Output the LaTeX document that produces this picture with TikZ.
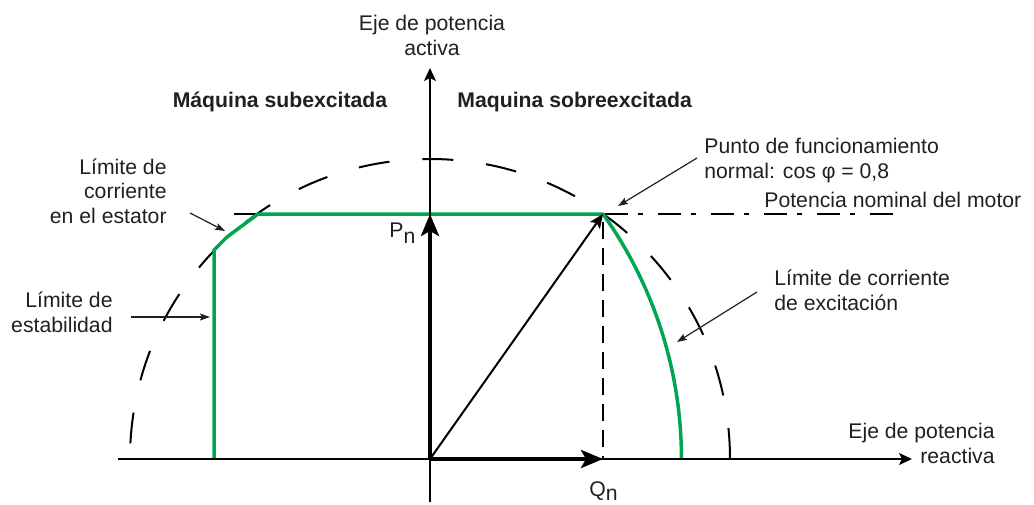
\documentclass[tikz,border=0pt]{standalone}
\usepackage{fontspec}
\setmainfont{Liberation Sans}
\usetikzlibrary{arrows.meta}
\definecolor{limgreen}{RGB}{0,166,81}
\definecolor{txtgray}{RGB}{35,31,32}

\begin{document}
\begin{tikzpicture}[x=0.5pt, y=0.5pt,
		lbl/.style={font=\fontsize{10.6}{12.2}\selectfont, text=txtgray, inner sep=0pt},
		bold/.style={lbl, font=\fontsize{10.6}{12.2}\selectfont\bfseries},
		axis/.style={line width=0.75pt, -{Stealth[length=6.5pt, width=6pt, inset=1.5pt]}},
		limit/.style={limgreen, line width=1.75pt, line join=round},
		vec/.style={line width=2pt, -{Stealth[length=11pt, width=9pt, inset=2.5pt]}},
		pointer/.style={txtgray, line width=0.6pt, -{Stealth[length=5pt, width=3.5pt, inset=1pt]}}]
		\useasboundingbox (0,0) rectangle (1034,-504);
		% points of the diagram
		\coordinate (O) at (430,-459);
		\coordinate (P) at (430,-214);
		\coordinate (Q) at (603,-459);
		\coordinate (S) at (603,-214);
		\coordinate (xL) at (118,-459);
		\coordinate (xR) at (912,-459);
		\coordinate (yB) at (430,-502);
		\coordinate (yT) at (430,-68);
		\coordinate (nomL) at (234,-214);
		\coordinate (nomR) at (893,-214);
		% dashed circle and nominal power line
		\draw[line width=1pt, dash pattern=on 15.5pt off 16.5pt] (730,-459) arc[start angle=0, end angle=180, radius=150pt];
		\draw[line width=1pt, dash pattern=on 11.5pt off 5pt on 2.5pt off 7.5pt] (nomL) -- (nomR);
		\draw[line width=1pt, dash pattern=on 8.5pt off 4.5pt] ([yshift=-4pt]S) -- (Q);
		% limits
		\draw[limit] (214,-459) -- (214,-250) -- (227,-237) -- (258,-214) -- (S) arc[start angle=35.5, end angle=0, radius=211pt];
		% axes
		\draw[axis] (xL) -- (xR);
		\draw[axis] (yB) -- (yT);
		% vectors
		\draw[vec] (O) -- (P);
		\draw[vec] (O) -- (Q);
		\draw[line width=1pt, -{Stealth[length=7pt, width=6pt, inset=1.5pt]}] (O) -- (S);
		% labels (base = last line)
		\node[lbl, align=center, anchor=base] (yaxis) at (432,-55) {Eje de potencia\\activa};
		\node[lbl, align=right, anchor=base east] (xaxis) at (995,-463) {Eje de potencia\\reactiva};
		\node[bold, anchor=base] (sub) at (280,-107) {Máquina subexcitada};
		\node[bold, anchor=base west] (sobre) at (457,-107) {Maquina sobreexcitada};
		\node[lbl, align=left, anchor=base west] (punto) at (704,-178) {Punto de funcionamiento\\normal: cos φ = 0,8};
		\node[lbl, anchor=base west] (nominal) at (764,-207) {Potencia nominal del motor};
		\node[lbl, align=right, anchor=base east] (estator) at (167,-223) {Límite de\\corriente\\en el estator};
		\node[lbl, align=right, anchor=base east] (estab) at (113,-332) {Límite de\\estabilidad};
		\node[lbl, align=left, anchor=base west] (excit) at (774,-310) {Límite de corriente\\de excitación};
		\node[lbl, anchor=base west] (Pn) at (389,-237) {P\raisebox{-3pt}{n}};
		\node[lbl, anchor=base west] (Qn) at (589,-496) {Q\raisebox{-2pt}{n}};
		% pointers
		\coordinate (a1) at (697,-158); \coordinate (b1) at (618,-206);
		\coordinate (a2) at (190,-213); \coordinate (b2) at (225,-231);
		\coordinate (a3) at (131,-317); \coordinate (b3) at (210,-317);
		\coordinate (a4) at (757,-292); \coordinate (b4) at (677,-342);
		\foreach \i in {1,2,3,4}
			\draw[pointer] (a\i) -- (b\i);
	\end{tikzpicture}
\end{document}
